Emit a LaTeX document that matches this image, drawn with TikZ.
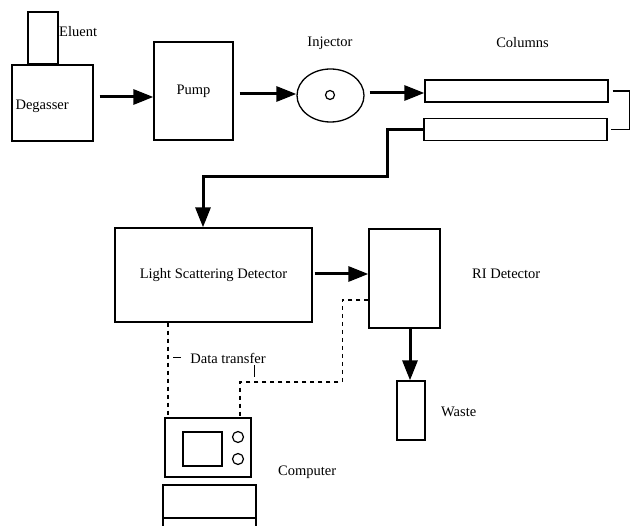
\documentclass[tikz,border=0pt]{standalone}
\usepackage{fontspec}
\setmainfont{Liberation Serif}
\usetikzlibrary{positioning, arrows.meta, shapes.geometric}

\begin{document}
\begin{tikzpicture}[
  x=1pt, y=-1pt,
  every node/.style={font=\fontsize{14.5}{16}\selectfont, inner sep=2pt},
  box/.style={draw, rectangle, line width=1.3pt, inner sep=0pt},
  flow/.style={line width=3pt, -{Triangle[length=20pt, width=15pt]}, shorten <=6pt},
  datalink/.style={line width=1.2pt, dash pattern=on 4pt off 4pt},
  thin/.style={line width=1.3pt}
]
  \useasboundingbox (0,0) rectangle (630,526);

  \node[box, minimum width=30pt, minimum height=52pt] (eluent) at (43,38) {};
  \node[box, minimum width=81pt, minimum height=76pt] (degasser) at (52.5,103) {};
  \node[box, minimum width=79pt, minimum height=98pt] (pump) at (193.5,91) {Pump};
  \node[draw, ellipse, line width=1.3pt, minimum width=67pt, minimum height=53pt] (inj) at (330.5,95.5) {};
  \node[draw, circle, line width=1.2pt, minimum size=9pt, inner sep=0pt] (port) at (330,95) {};
  \node[box, minimum width=183pt, minimum height=22pt] (col1) at (516.5,91) {};
  \node[box, minimum width=183pt, minimum height=22pt] (col2) at (515.5,129.5) {};
  \node[box, minimum width=197pt, minimum height=94pt] (lsd) at (213.5,275) {Light Scattering Detector};
  \node[box, minimum width=71pt, minimum height=99pt] (ri) at (404.5,278.5) {};
  \node[box, minimum width=28pt, minimum height=59pt] (waste) at (411,410.5) {};
  \node[box, minimum width=86pt, minimum height=59pt] (monitor) at (208,447.5) {};
  \node[box, minimum width=39pt, minimum height=34pt] (screen) at (202.5,449) {};
  \node[draw, circle, line width=1.2pt, minimum size=11pt, inner sep=0pt] (knob1) at (238,437) {};
  \node[draw, circle, line width=1.2pt, minimum size=11pt, inner sep=0pt] (knob2) at (238,459) {};

  \node[anchor=west] (degtxt) at ([xshift=2pt,yshift=-3pt]degasser.west) {Degasser};
  \node[anchor=west] (eluenttxt) at (57,32) {Eluent};
  \node (injtxt) at (330,43) {Injector};
  \node (coltxt) at (522.5,43) {Columns};
  \node[anchor=west] (ritxt) at (470,274) {RI Detector};
  \node[anchor=west] (wastetxt) at (439,412) {Waste};
  \node[anchor=west] (comptxt) at (276,472) {Computer};
  \node (datatxt) at (228,358) {Data transfer};

  \draw[flow] ([yshift=6pt]degasser.east) -- ([yshift=-6pt]pump.west);
  \draw[flow] ([yshift=-3pt]pump.east) -- ([yshift=1.5pt]inj.west);
  \draw[flow, shorten <=5pt] ([yshift=2.5pt]inj.east) -- ([yshift=-2pt]col1.west);
  \draw[thin] ([xshift=4pt]col1.east) -- ++(17,0) |- ([xshift=3pt]col2.east);
  \draw[flow, shorten <=0pt] (col2.west) -- ++(-36,0) -- ++(0,47) -| ([xshift=-10.5pt]lsd.north);
  \draw[flow, shorten <=2pt] ([yshift=1pt]lsd.east) -- ([yshift=4.5pt]ri.west);
  \draw[flow, shorten <=0pt] ([xshift=5.5pt]ri.south) -- ([xshift=-1pt]waste.north);

  \draw[datalink] ([xshift=-45.5pt]lsd.south) -- ([xshift=-45.5pt]lsd.south |- monitor.north);
  \draw[datalink] ([yshift=-21.5pt]ri.west) -- ++(-26,0) -- ++(0,82) -| ([xshift=32pt]monitor.north);
  \draw[line width=1pt] ([xshift=-7pt]datatxt.west) -- ++(-8,0);
  \draw[line width=1pt] ([xshift=26pt]datatxt.south) -- ++(0,12);

  \draw[thin] (163,526) |- (256,485) -- (256,526);
  \draw[thin] (164,518) -- (255,518);
\end{tikzpicture}
\end{document}
